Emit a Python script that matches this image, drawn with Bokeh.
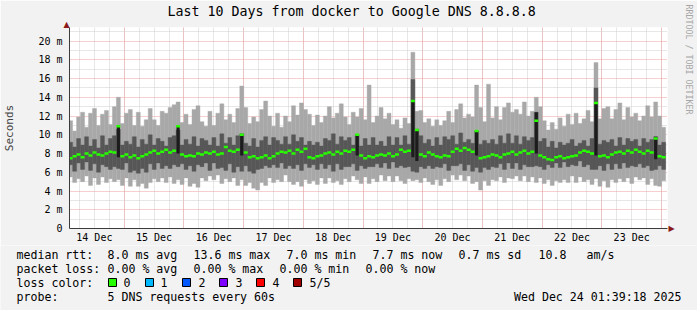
from math import pi
import numpy as np
from bokeh.plotting import figure
from bokeh.layouts import column
from bokeh.models import Range1d, FixedTicker, Label
from bokeh.core.properties import value
from bokeh.embed import file_html
from bokeh.resources import INLINE

MONO = "DejaVu Sans Mono"

title_text = "Last 10 Days from docker to Google DNS 8.8.8.8"
day_labels = ["14 Dec", "15 Dec", "16 Dec", "17 Dec", "18 Dec",
              "19 Dec", "20 Dec", "21 Dec", "22 Dec", "23 Dec"]
day_label_hours = [12, 36, 60, 84, 108, 132, 156, 180, 204, 228]   # noon of each day (hours since 14 Dec 00:00)
midnight_hours = [24, 48, 72, 96, 120, 144, 168, 192, 216, 240]
y_ticks = [0, 2, 4, 6, 8, 10, 12, 14, 16, 18, 20]
y_tick_labels = ["0", "2 m", "4 m", "6 m", "8 m", "10 m", "12 m", "14 m", "16 m", "18 m", "20 m"]
y_minor = [1, 3, 5, 7, 9, 11, 13, 15, 17, 19, 21]

START_H = 1.65   # first column start (hours since 14 Dec 00:00)
STEP_H = 1.6     # hours per column

# smoke (ms) per column
smoke_max = [
    11.5, 10.4, 11.9, 12.4, 10.8, 12.3, 12.8, 11.0, 12.2, 12.6, 11.1, 13.0, 14.0, 11.2, 12.3,
    12.7, 11.0, 12.4, 10.9, 11.6, 12.8, 11.6, 11.0, 12.5, 12.3, 12.9, 13.2, 13.5, 11.3, 12.2,
    11.1, 12.7, 13.1, 11.4, 10.9, 12.5, 11.0, 12.3, 13.3, 11.6, 12.2, 11.3, 12.8, 15.2, 12.9,
    11.2, 11.9, 11.4, 12.7, 13.6, 12.0, 10.9, 12.3, 10.8, 12.0, 11.4, 13.1, 12.1, 13.4, 12.7,
    12.2, 11.0, 12.1, 11.3, 12.0, 13.0, 11.8, 12.3, 13.3, 11.9, 11.1, 12.4, 11.9, 12.8, 11.6,
    15.3, 11.3, 12.0, 12.9, 11.7, 12.3, 11.1, 11.6, 10.7, 11.8, 11.2, 18.8, 12.5, 12.6, 11.3,
    11.7, 10.9, 11.6, 11.0, 11.5, 12.5, 11.3, 12.7, 13.3, 11.8, 12.2, 11.9, 15.3, 12.9, 11.4,
    15.4, 11.8, 13.0, 11.6, 12.9, 13.4, 12.4, 12.7, 12.2, 13.5, 12.0, 12.5, 14.0, 13.0, 11.5,
    10.5, 11.3, 10.6, 11.8, 10.9, 12.2, 11.1, 12.3, 11.2, 11.7, 12.6, 11.4, 17.7, 11.7, 12.8,
    13.0, 11.7, 12.7, 13.4, 11.6, 12.9, 11.9, 12.3, 11.5, 12.0, 13.1, 11.9, 13.5, 12.0, 10.8,
]
smoke_min = [
    5.5, 4.9, 5.3, 5.0, 5.6, 4.6, 5.4, 4.7, 5.5, 4.9, 5.3, 5.0, 5.2, 4.6, 5.4,
    4.5, 5.2, 4.5, 4.8, 4.3, 4.9, 5.3, 5.0, 5.4, 4.9, 5.5, 4.8, 5.2, 4.7, 5.4,
    4.5, 4.8, 4.4, 5.4, 5.1, 5.6, 5.2, 5.7, 4.8, 5.3, 5.0, 5.4, 4.6, 5.2, 4.6,
    4.9, 4.3, 4.1, 4.9, 4.6, 5.4, 4.9, 5.2, 5.0, 5.7, 5.0, 4.7, 5.0, 4.5, 5.2,
    4.8, 5.1, 4.7, 5.4, 4.8, 5.4, 4.9, 5.1, 4.7, 5.3, 5.0, 5.6, 5.2, 4.8, 5.5,
    4.8, 5.3, 5.0, 5.7, 5.1, 5.6, 5.0, 5.6, 5.1, 4.8, 5.3, 5.1, 5.2, 4.9, 5.4,
    5.0, 4.7, 5.2, 4.6, 5.3, 5.0, 5.7, 5.2, 5.7, 5.1, 5.6, 4.8, 5.0, 4.1, 5.1,
    4.6, 5.2, 5.1, 5.5, 4.9, 5.4, 5.3, 5.6, 5.1, 5.6, 5.0, 5.5, 4.9, 5.4, 4.8,
    5.2, 4.6, 5.1, 4.9, 5.2, 4.9, 5.6, 4.9, 5.5, 5.0, 5.2, 4.7, 5.3, 4.5, 5.1,
    4.4, 5.2, 4.9, 5.3, 5.0, 5.4, 4.8, 5.5, 5.2, 5.4, 4.7, 5.3, 4.6, 4.5, 5.1,
]
smoke_q3 = [
    9.2, 8.7, 9.6, 8.9, 9.8, 8.8, 9.5, 8.6, 9.9, 8.9, 9.6, 9.9, 10.6, 8.9, 9.3,
    9.0, 9.8, 8.7, 9.5, 9.0, 10.0, 8.9, 9.6, 9.3, 8.8, 9.7, 9.9, 10.5, 8.9, 9.5,
    9.0, 9.8, 8.8, 9.6, 9.4, 8.9, 9.7, 8.8, 10.1, 9.1, 9.7, 8.9, 9.9, 10.1, 9.1,
    8.8, 9.6, 8.7, 9.4, 9.8, 8.9, 9.7, 9.4, 9.0, 9.8, 9.0, 10.0, 9.3, 9.7, 8.9,
    9.3, 8.9, 9.2, 8.8, 9.6, 9.4, 10.1, 9.0, 9.8, 9.4, 9.7, 8.9, 10.0, 8.8, 9.6,
    8.9, 9.7, 8.9, 9.3, 8.8, 9.8, 8.9, 9.7, 8.9, 9.9, 9.0, 15.9, 10.6, 9.9, 9.1,
    9.5, 8.8, 9.7, 8.9, 9.8, 9.5, 9.9, 9.0, 10.2, 9.2, 9.5, 9.1, 10.4, 9.0, 9.4,
    9.1, 9.5, 9.0, 9.9, 9.1, 10.1, 9.1, 9.9, 9.0, 9.8, 9.4, 9.7, 12.4, 9.3, 9.6,
    8.7, 9.3, 8.6, 9.2, 8.9, 9.1, 9.5, 8.8, 9.1, 9.4, 8.8, 9.6, 15.0, 9.0, 9.4,
    9.2, 9.5, 8.8, 9.7, 8.9, 9.6, 9.3, 9.5, 8.8, 9.6, 9.2, 9.5, 9.8, 8.9, 9.2,
]
smoke_q1 = [
    6.8, 6.1, 7.0, 6.3, 7.1, 6.2, 6.9, 6.0, 6.8, 6.6, 6.3, 6.6, 6.4, 6.3, 7.0,
    6.0, 6.2, 5.9, 6.4, 6.0, 6.9, 6.3, 7.0, 6.4, 6.7, 6.4, 6.8, 6.6, 6.9, 6.3,
    6.7, 6.1, 6.8, 6.6, 7.0, 6.2, 7.0, 6.4, 6.5, 6.2, 6.9, 6.0, 6.6, 6.1, 6.7,
    6.1, 5.9, 6.3, 6.4, 6.7, 6.5, 6.8, 6.5, 7.0, 6.4, 6.7, 6.4, 6.8, 6.2, 6.9,
    6.5, 6.8, 6.3, 6.9, 6.4, 6.8, 6.1, 6.9, 6.3, 6.6, 6.6, 6.9, 6.2, 6.7, 6.4,
    6.6, 6.6, 6.9, 6.5, 7.0, 6.4, 7.1, 6.5, 6.7, 6.5, 6.6, 6.1, 6.0, 6.6, 6.4,
    6.7, 6.4, 6.6, 6.5, 6.9, 6.2, 6.7, 6.7, 6.9, 6.2, 6.8, 6.1, 6.5, 6.0, 6.5,
    6.3, 6.6, 6.5, 6.9, 6.3, 7.0, 6.4, 7.0, 6.3, 6.8, 6.6, 6.6, 6.7, 6.6, 6.3,
    6.8, 6.5, 7.0, 6.5, 7.1, 6.6, 6.8, 6.7, 7.2, 6.6, 6.8, 6.3, 6.3, 6.7, 6.2,
    6.9, 6.3, 6.9, 6.4, 7.0, 6.5, 6.7, 6.6, 6.9, 6.5, 6.7, 6.2, 6.3, 6.7, 6.3,
]
median_rtt = [
    7.5, 7.7, 7.9, 7.6, 8.0, 7.8, 8.1, 7.9, 7.8, 8.0, 8.2, 8.1, 10.9, 7.7, 7.9,
    7.6, 7.8, 7.5, 7.7, 7.9, 8.1, 8.3, 8.0, 8.2, 8.4, 8.1, 8.3, 10.9, 7.9, 7.7,
    7.8, 7.7, 8.0, 7.9, 8.1, 8.0, 8.2, 7.9, 8.0, 8.7, 8.3, 8.2, 8.4, 10.0, 8.1,
    7.6, 7.7, 7.5, 7.6, 7.8, 7.5, 7.7, 8.0, 8.2, 8.1, 8.3, 8.0, 8.4, 8.2, 8.5,
    7.6, 7.5, 7.7, 7.8, 8.0, 8.1, 7.9, 8.2, 8.0, 8.3, 8.2, 8.4, 10.0, 7.8, 7.5,
    7.7, 7.6, 7.8, 7.9, 7.8, 8.0, 7.7, 7.9, 8.4, 8.2, 8.3, 13.6, 10.5, 7.9, 7.7,
    8.1, 7.9, 7.7, 7.6, 7.8, 7.7, 8.2, 8.5, 8.3, 8.6, 8.4, 8.2, 10.4, 7.5, 7.6,
    7.7, 7.9, 7.8, 7.6, 7.9, 8.0, 8.2, 7.9, 8.1, 8.3, 8.0, 8.2, 11.5, 7.8, 7.6,
    7.4, 7.3, 7.6, 7.7, 7.5, 7.6, 7.7, 7.8, 8.1, 8.3, 8.2, 8.0, 13.4, 7.7, 7.8,
    7.6, 7.9, 8.1, 8.2, 8.0, 8.3, 8.1, 8.4, 8.2, 8.0, 8.3, 8.1, 9.6, 7.7, 7.6,
]
# dark cores of the latency spikes
spike_cols = [12, 27, 43, 72, 86, 87, 102, 117, 132, 147]
spike_low = [7.6, 8.0, 7.8, 7.8, 7.6, 7.2, 7.8, 8.0, 7.8, 7.4]
spike_high = [10.9, 10.9, 10.0, 10.0, 13.6, 10.5, 10.4, 12.4, 13.4, 9.8]

loss_labels = ["0", "1", "2", "3", "4", "5/5"]
loss_colors = ["#26FF00", "#00B8FF", "#0059FF", "#7E00FF", "#FF0000", "#A10000"]

stats_rtt = ["median rtt:", "8.0 ms avg", "13.6 ms max", "7.0 ms min", "7.7 ms now", "0.7 ms sd", "10.8", "am/s"]
stats_loss = ["packet loss:", "0.00 % avg", "0.00 % max", "0.00 % min", "0.00 % now"]
loss_title = "loss color:"
probe_text = ["probe:", "5 DNS requests every 60s"]
timestamp = "Wed Dec 24 01:39:18 2025"
watermark = "RRDTOOL / TOBI OETIKER"

# ---------------------------------------------------------------
X0, X1 = 2.0, 242.4
Y0, Y1 = 0.0, 21.44
BG = "#F2F2F2"

p = figure(width=697, height=245, x_range=Range1d(X0, X1), y_range=Range1d(Y0, Y1),
           output_backend="svg", toolbar_location=None, title=title_text,
           min_border_left=66, min_border_right=30, min_border_top=27, min_border_bottom=17)
p.background_fill_color = "#FFFFFF"
p.border_fill_color = BG
p.outline_line_color = None

p.title.align = "left"
p.title.offset = 98
p.title.standoff = 0
p.title.text_font = MONO
p.title.text_font_style = "normal"
p.title.text_font_size = "13.3px"
p.title.text_color = "#000000"

xs = START_H + STEP_H * (np.arange(len(median_rtt)) + 0.5)

p.vbar(x=xs, width=STEP_H, bottom=smoke_min, top=smoke_max,
       fill_color="#A8A8A8", line_color="#A8A8A8", line_width=0.4)
p.vbar(x=xs, width=STEP_H, bottom=smoke_q1, top=smoke_q3,
       fill_color="#575757", line_color="#575757", line_width=0.4)
sx = xs[np.array(spike_cols)]
p.vbar(x=sx, width=STEP_H * 0.8, bottom=spike_low, top=spike_high,
       fill_color="#1C1C1C", line_color=None)
p.segment(x0=xs - STEP_H / 2, x1=xs + STEP_H / 2, y0=median_rtt, y1=median_rtt,
          line_color=loss_colors[0], line_width=2.5)

# grids
p.xgrid.ticker = FixedTicker(ticks=midnight_hours, minor_ticks=list(range(6, 244, 6)))
p.ygrid.ticker = FixedTicker(ticks=y_ticks, minor_ticks=y_minor)
for g in (p.xgrid, p.ygrid):
    g.grid_line_color = "#EE9E9E"
    g.grid_line_dash = "1 1"
    g.grid_line_width = 1
    g.minor_grid_line_color = "#CFCFCF"
    g.minor_grid_line_dash = "1 1"

# axes
p.yaxis.ticker = FixedTicker(ticks=y_ticks, minor_ticks=[])
p.yaxis.major_label_overrides = dict(zip(y_ticks, y_tick_labels))
p.yaxis.axis_label = "Seconds"
p.yaxis.axis_label_standoff = 19
p.yaxis.axis_label_text_font = MONO
p.yaxis.axis_label_text_font_style = "normal"
p.yaxis.axis_label_text_font_size = "11px"
p.yaxis.major_label_standoff = 7

p.xaxis.ticker = FixedTicker(ticks=day_label_hours, minor_ticks=[])
p.xaxis.major_label_overrides = dict(zip(day_label_hours, day_labels))
p.xaxis.major_label_standoff = 3

for ax in (p.xaxis, p.yaxis):
    ax.major_tick_out = 0
    ax.major_tick_in = 0
    ax.minor_tick_out = 0
    ax.minor_tick_in = 0
    ax.axis_line_color = "#3C3C3C"
    ax.major_label_text_font = MONO
    ax.major_label_text_font_size = "10px"
    ax.major_label_text_color = "#000000"


def side_label(x, y, s, panel, size, color, angle=0.0, align="left", font=MONO):
    p.add_layout(Label(x=x, y=y, x_units="canvas", y_units="canvas", text=s,
                       text_font=font, text_font_size=size, text_align=align,
                       text_baseline="middle", text_color=color, angle=angle), panel)


ARROW = "#8B1A1A"
side_label(66, 24, "\u25B2", "above", "8px", ARROW, align="center", font="DejaVu Sans")
side_label(688, 4, watermark, "right", "8.3px", "#A6A6A6", angle=-pi / 2)
side_label(671, 228, "\u25B6", "right", "8px", ARROW, align="center", font="DejaVu Sans")

# ---- legend strip below the graph (its own canvas, 1 data unit = 1 px, y downwards)
TOP = 245
leg = figure(width=697, height=310 - TOP, y_range=Range1d(310, TOP),
             output_backend="svg", toolbar_location=None, x_axis_type=None, y_axis_type=None,
             min_border_left=0, min_border_right=0, min_border_top=0, min_border_bottom=0)
try:
    # keep the strip's frame independent of the graph's frame in the column layout
    leg.frame_align = False
    p.frame_align = False
    LX0, LX1 = 0, 697
except Exception:
    LX0, LX1 = 66, 667
leg.x_range = Range1d(LX0, LX1)
leg.background_fill_color = BG
leg.border_fill_color = BG
leg.outline_line_color = None
leg.grid.visible = False

rows = [
    ([16, 107, 193, 286, 372, 458, 538, 586], [254] * 8, stats_rtt),
    ([16, 107, 193, 279, 365], [268] * 5, stats_loss),
    ([16, 123, 160, 198, 235, 272, 309], [282] * 7, [loss_title] + loss_labels),
    ([16, 107], [296] * 2, probe_text),
]
tx, ty, tt = [], [], []
for rx, ry, rt in rows:
    tx += rx
    ty += ry
    tt += rt
leg.text(x=tx, y=ty, text=tt, text_font=value(MONO), text_font_size=value("11.6px"),
         text_align="left", text_baseline="middle", text_color="#000000")
leg.text(x=[681], y=[296], text=[timestamp], text_font=value(MONO), text_font_size=value("11.6px"),
         text_align="right", text_baseline="middle", text_color="#000000")
leg.rect(x=[112, 149, 186, 223, 260, 297], y=[282] * 6, width=8, height=8,
         fill_color=loss_colors, line_color="#000000", line_width=1)

layout = column(p, leg, spacing=0)
open("out.html", "w").write(file_html(layout, INLINE))
